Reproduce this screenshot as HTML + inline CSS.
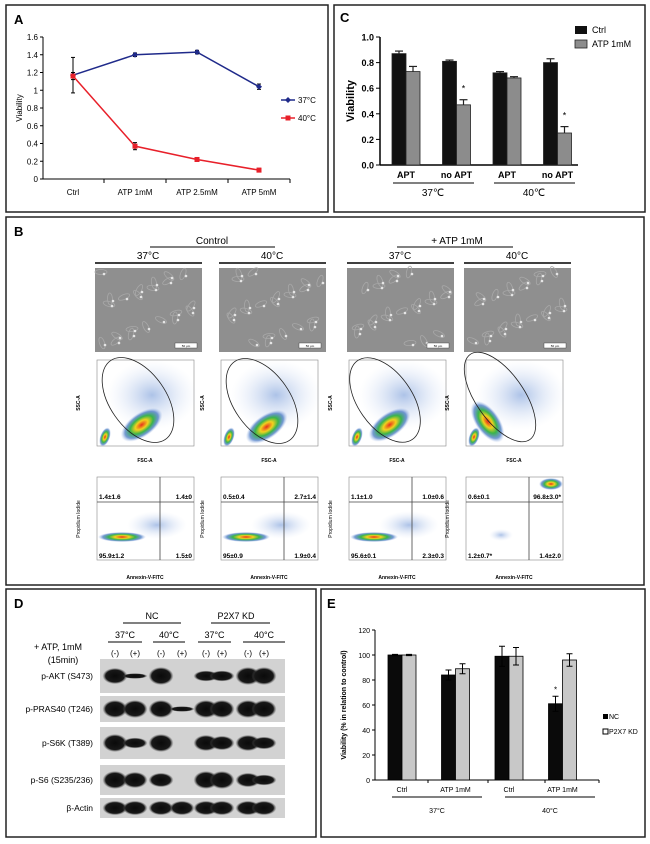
<!DOCTYPE html>
<html><head><meta charset="utf-8"><style>
body{margin:0;background:#fff;}
svg{display:block;font-family:"Liberation Sans",sans-serif;}
</style></head><body>
<svg id="fig" width="650" height="844" viewBox="0 0 650 844">
<defs>
<radialGradient id="heat" cx="50%" cy="50%" r="50%">
<stop offset="0" stop-color="#e8301c"/><stop offset="0.3" stop-color="#f2d21e"/><stop offset="0.55" stop-color="#39b54a"/><stop offset="0.8" stop-color="#3a6fc0" stop-opacity="0.7"/><stop offset="1" stop-color="#9db8e8" stop-opacity="0"/>
</radialGradient>
<radialGradient id="blue" cx="50%" cy="50%" r="50%">
<stop offset="0" stop-color="#5a86d0" stop-opacity="0.5"/><stop offset="1" stop-color="#c8d6f2" stop-opacity="0"/>
</radialGradient>
<radialGradient id="band" cx="50%" cy="50%" r="50%">
<stop offset="0" stop-color="#0a0a0a"/><stop offset="0.75" stop-color="#181818"/><stop offset="1" stop-color="#555" stop-opacity="0"/>
</radialGradient>
</defs>
<rect x="6" y="5" width="322" height="207" fill="none" stroke="#222" stroke-width="1.5"/>
<rect x="334" y="5" width="311" height="207" fill="none" stroke="#222" stroke-width="1.5"/>
<rect x="6" y="217" width="638" height="368" fill="none" stroke="#222" stroke-width="1.5"/>
<rect x="6" y="589" width="310" height="248" fill="none" stroke="#222" stroke-width="1.5"/>
<rect x="321" y="589" width="324" height="248" fill="none" stroke="#222" stroke-width="1.5"/>
<text x="14" y="24" font-size="13" font-weight="bold">A</text>
<text x="340" y="22" font-size="13" font-weight="bold">C</text>
<text x="14" y="236" font-size="13" font-weight="bold">B</text>
<text x="14" y="608" font-size="13" font-weight="bold">D</text>
<text x="327" y="608" font-size="13" font-weight="bold">E</text>
<g id="gA"></g><g id="gC"></g><g id="gB"></g><g id="gD"></g><g id="gE"></g>
</svg>
<script>
// ---------- Panel A data ----------
const aCategories = ["Ctrl","ATP 1mM","ATP 2.5mM","ATP 5mM"];
const a37 = [1.17,1.40,1.43,1.04];
const a37Err = [0.20,0.02,0.02,0.03];
const a40 = [1.16,0.37,0.22,0.10];
const a40Err = [0.04,0.04,0.02,0.02];
const aTicks = ["0","0.2","0.4","0.6","0.8","1","1.2","1.4","1.6"];
// ---------- Panel C data ----------
const cCategories = ["APT","no APT","APT","no APT"];
const cCtrl = [0.87,0.81,0.72,0.80];
const cCtrlErr = [0.02,0.01,0.01,0.03];
const cAtp = [0.73,0.47,0.68,0.25];
const cAtpErr = [0.04,0.04,0.01,0.05];
const cTicks = ["0.0","0.2","0.4","0.6","0.8","1.0"];
// ---------- Panel E data ----------
const eCategories = ["Ctrl","ATP 1mM","Ctrl","ATP 1mM"];
const eNC = [100,84,99,61];
const eNCErr = [0.5,4,8,6];
const eKD = [100,89,99,96];
const eKDErr = [0.5,4,7,5];
const eTicks = ["0","20","40","60","80","100","120"];
// ---------- Panel B data ----------
const bQuadLabels = [["1.4±1.6","1.4±0","95.9±1.2","1.5±0"],["0.5±0.4","2.7±1.4","95±0.9","1.9±0.4"],["1.1±1.0","1.0±0.6","95.6±0.1","2.3±0.3"],["0.6±0.1","96.8±3.0*","1.2±0.7*","1.4±2.0"]];
// ---------- Panel D data ----------
const dProteins = ["p-AKT (S473)","p-PRAS40 (T246)","p-S6K (T389)","p-S6 (S235/236)","β-Actin"];
const dBands = [[0.9,0.3,1,0,0.6,0.6,1,1],[1,1,1,0.3,1,1,1,1],[1,0.6,1,0,0.9,0.8,0.9,0.7],[1,0.9,0.8,0,1,1,0.8,0.6],[0.8,0.8,0.8,0.8,0.8,0.8,0.8,0.8]];

const NS="http://www.w3.org/2000/svg";
function el(p,tag,attrs,txt){const e=document.createElementNS(NS,tag);for(const k in attrs)e.setAttribute(k,attrs[k]);if(txt!==undefined)e.textContent=txt;p.appendChild(e);return e;}

// ===== Panel A =====
(function(){
const g=document.getElementById('gA');
const x0=43,x1=290,yb=179,yt=37,vmax=1.6;
const y=v=>yb-(v/vmax)*(yb-yt);
const xc=i=>73+i*62;
let e=el(g,'line',{x1:x0,y1:yt,x2:x0,y2:yb,stroke:'#000'});

e=el(g,'line',{x1:x0,y1:yb,x2:x1,y2:yb,stroke:'#000'});

aTicks.forEach((t,i)=>{const v=i*0.2;el(g,'line',{x1:x0-3,y1:y(v),x2:x0,y2:y(v),stroke:'#000'});
 e=el(g,'text',{x:x0-5,y:y(v)+3,'font-size':8,'text-anchor':'end'},t);
 });
aCategories.forEach((c,i)=>{el(g,'line',{x1:xc(i)+31,y1:yb,x2:xc(i)+31,y2:yb+4,stroke:'#000'});
 e=el(g,'text',{x:xc(i),y:yb+16,'font-size':8,'text-anchor':'middle'},c);
 });
e=el(g,'text',{x:22,y:108,'font-size':8,'text-anchor':'middle',transform:'rotate(-90 22 108)'},'Viability');

function series(vals,errs,col,name,marker){
 const pts=vals.map((v,i)=>xc(i)+','+y(v)).join(' ');
 let l=el(g,'polyline',{points:pts,fill:'none',stroke:col,'stroke-width':1.5});
 
 vals.forEach((v,i)=>{const X=xc(i);
  el(g,'line',{x1:X,y1:y(v+errs[i]),x2:X,y2:y(v-errs[i]),stroke:'#000'});
  el(g,'line',{x1:X-2,y1:y(v+errs[i]),x2:X+2,y2:y(v+errs[i]),stroke:'#000'});
  el(g,'line',{x1:X-2,y1:y(v-errs[i]),x2:X+2,y2:y(v-errs[i]),stroke:'#000'});
  let m=marker==='sq'?el(g,'rect',{x:X-2.5,y:y(v)-2.5,width:5,height:5,fill:col}):el(g,'path',{d:`M${X} ${y(v)-3}L${X+3} ${y(v)}L${X} ${y(v)+3}L${X-3} ${y(v)}Z`,fill:col});
  });
}
series(a37,a37Err,'#1f2a8a','series-37c','dia');
series(a40,a40Err,'#e8202a','series-40c','sq');
el(g,'line',{x1:281,y1:100,x2:295,y2:100,stroke:'#1f2a8a','stroke-width':1.5});
el(g,'path',{d:'M288 97L291 100L288 103L285 100Z',fill:'#1f2a8a'});
e=el(g,'text',{x:298,y:103,'font-size':8},'37°C');
el(g,'line',{x1:281,y1:118,x2:295,y2:118,stroke:'#e8202a','stroke-width':1.5});
el(g,'rect',{x:285.5,y:115.5,width:5,height:5,fill:'#e8202a'});
e=el(g,'text',{x:298,y:121,'font-size':8},'40°C');
})();

// ===== Panel C =====
(function(){
const g=document.getElementById('gC');
const x0=380,x1=578,yb=165,yt=37;
const y=v=>yb-v*(yb-yt);
const gc=i=>406+i*50.5;
let e=el(g,'line',{x1:x0,y1:yt,x2:x0,y2:yb,stroke:'#000','stroke-width':1.5});

e=el(g,'line',{x1:x0,y1:yb,x2:x1,y2:yb,stroke:'#000','stroke-width':1.5});

cTicks.forEach((t,i)=>{const v=i*0.2;el(g,'line',{x1:x0-4,y1:y(v),x2:x0,y2:y(v),stroke:'#000'});
 e=el(g,'text',{x:x0-6,y:y(v)+3.5,'font-size':9,'font-weight':'bold','text-anchor':'end'},t);
 });
e=el(g,'text',{x:354,y:101,'font-size':11,'font-weight':'bold','text-anchor':'middle',transform:'rotate(-90 354 101)'},'Viability');

cCategories.forEach((c,i)=>{const X=gc(i);
 function bar(v,er,x,fill,name){let r=el(g,'rect',{x:x,y:y(v),width:14,height:yb-y(v),fill:fill,stroke:'#222','stroke-width':0.8});
  
  el(g,'line',{x1:x+7,y1:y(v),x2:x+7,y2:y(v+er),stroke:'#222','stroke-width':1.2});
  el(g,'line',{x1:x+3,y1:y(v+er),x2:x+11,y2:y(v+er),stroke:'#222','stroke-width':1.2});}
 bar(cCtrl[i],cCtrlErr[i],X-14,'#111','c-bar-ctrl');
 bar(cAtp[i],cAtpErr[i],X,'#8c8c8c','c-bar-atp');
 e=el(g,'text',{x:X,y:178,'font-size':9,'font-weight':'bold','text-anchor':'middle'},c);
 });
[1,3].forEach(i=>{e=el(g,'text',{x:gc(i)+7,y:y(cAtp[i]+cAtpErr[i])-8,'font-size':9,'text-anchor':'middle'},'*');});
el(g,'line',{x1:393,y1:183,x2:474,y2:183,stroke:'#000'});
el(g,'line',{x1:494,y1:183,x2:575,y2:183,stroke:'#000'});
e=el(g,'text',{x:433,y:196,'font-size':10,'text-anchor':'middle'},'37℃');
e=el(g,'text',{x:534,y:196,'font-size':10,'text-anchor':'middle'},'40℃');
el(g,'rect',{x:575,y:26,width:12,height:8,fill:'#111'});
e=el(g,'text',{x:592,y:33,'font-size':9},'Ctrl');
el(g,'rect',{x:575,y:40,width:12,height:8,fill:'#8c8c8c',stroke:'#222','stroke-width':0.8});
e=el(g,'text',{x:592,y:47,'font-size':9},'ATP 1mM');
})();

// ===== Panel B =====
(function(){
const g=document.getElementById('gB');
let e;
e=el(g,'text',{x:212,y:244,'font-size':10,'text-anchor':'middle'},'Control');
el(g,'line',{x1:150,y1:247,x2:275,y2:247,stroke:'#000'});
e=el(g,'text',{x:457,y:244,'font-size':10,'text-anchor':'middle'},'+ ATP 1mM');
el(g,'line',{x1:397,y1:247,x2:513,y2:247,stroke:'#000'});
const cols=[95,219,347,464];
const temps=['37°C','40°C','37°C','40°C'];
const gates=[[138,400,48,28],[262,401,48,28],[385,400,48,27],[500,397,52,24]];
const centers=[[140,326],[265,328],[388,326],[490,320]];
cols.forEach((x,i)=>{
 e=el(g,'text',{x:x+53,y:259,'font-size':10,'text-anchor':'middle'},temps[i]);
 el(g,'line',{x1:x,y1:263,x2:x+107,y2:263,stroke:'#000','stroke-width':1.5});
 let r=el(g,'rect',{x:x,y:268,width:107,height:84,fill:'#8f8f8f'});
 for(let k=0;k<22;k++){const cx=x+6+((k*37+i*13)%96),cy=272+((k*23+i*7)%76);
  el(g,'ellipse',{cx:cx,cy:cy,rx:6,ry:2.5,fill:'none',stroke:'#a8a8a8','stroke-width':0.8,transform:`rotate(${(k*47)%180} ${cx} ${cy})`});
  el(g,'circle',{cx:cx+3,cy:cy+2,r:1.3,fill:'#e6e6e6'});}
 el(g,'rect',{x:x+80,y:343,width:22,height:5,fill:'#fff',stroke:'#333','stroke-width':0.4});
 el(g,'text',{x:x+91,y:347,'font-size':3,'text-anchor':'middle'},'50 μm');
 const px=x+2;
 r=el(g,'rect',{x:px,y:360,width:97,height:86,fill:'#fff',stroke:'#888','stroke-width':0.6});
 el(g,'ellipse',{cx:px+55,cy:395,rx:45,ry:35,fill:'url(#blue)'});
 el(g,'ellipse',{cx:centers[i][0]-x+px-(i===3?5:0),cy:centers[i][1]+100,rx:i===3?12:24,ry:i===3?24:12,fill:'url(#heat)',transform:`rotate(-35 ${centers[i][0]} ${centers[i][1]+100})`});
 el(g,'ellipse',{cx:px+8,cy:437,rx:5,ry:10,fill:'url(#heat)',transform:`rotate(20 ${px+8} 437)`});
 el(g,'ellipse',{cx:gates[i][0],cy:gates[i][1],rx:gates[i][2],ry:gates[i][3],fill:'none',stroke:'#222','stroke-width':0.8,transform:`rotate(55 ${gates[i][0]} ${gates[i][1]})`});
 e=el(g,'text',{x:px+48,y:462,'font-size':5,'font-weight':'bold','text-anchor':'middle'},'FSC-A');
 e=el(g,'text',{x:px-17,y:403,'font-size':5,'font-weight':'bold','text-anchor':'middle',transform:`rotate(-90 ${px-17} 403)`},'SSC-A');
 r=el(g,'rect',{x:px,y:477,width:97,height:83,fill:'#fff',stroke:'#888','stroke-width':0.6});
 if(i<3){el(g,'ellipse',{cx:px+60,cy:525,rx:30,ry:14,fill:'url(#blue)'});el(g,'ellipse',{cx:px+25,cy:537,rx:24,ry:5,fill:'url(#heat)'});}
 else{el(g,'ellipse',{cx:px+85,cy:484,rx:12,ry:6,fill:'url(#heat)'});el(g,'ellipse',{cx:px+35,cy:535,rx:12,ry:6,fill:'url(#blue)'});}
 el(g,'line',{x1:px+63,y1:477,x2:px+63,y2:560,stroke:'#444','stroke-width':0.8});
 el(g,'line',{x1:px,y1:502,x2:px+97,y2:502,stroke:'#444','stroke-width':0.8});
 const q=bQuadLabels[i];
 [[px+2,499,'start',0],[px+95,499,'end',1],[px+2,558,'start',2],[px+95,558,'end',3]].forEach(p=>{
  e=el(g,'text',{x:p[0],y:p[1],'font-size':6.5,'font-weight':'bold','text-anchor':p[2]},q[p[3]]);});
 e=el(g,'text',{x:px+48,y:579,'font-size':5,'font-weight':'bold','text-anchor':'middle'},'Annexin-V-FITC');
 e=el(g,'text',{x:px-17,y:519,'font-size':5,'text-anchor':'middle',transform:`rotate(-90 ${px-17} 519)`},'Propidium Iodide');
});
})();

// ===== Panel D =====
(function(){
const g=document.getElementById('gD');let e;
e=el(g,'text',{x:152,y:619,'font-size':9,'text-anchor':'middle'},'NC');
el(g,'line',{x1:123,y1:623,x2:181,y2:623,stroke:'#000'});
e=el(g,'text',{x:236,y:619,'font-size':9,'text-anchor':'middle'},'P2X7 KD');
el(g,'line',{x1:211,y1:623,x2:270,y2:623,stroke:'#000'});
const tX=[[108,142,'37°C'],[153,185,'40°C'],[198,231,'37°C'],[243,285,'40°C']];
tX.forEach(t=>{e=el(g,'text',{x:(t[0]+t[1])/2,y:638,'font-size':9,'text-anchor':'middle'},t[2]);
 el(g,'line',{x1:t[0],y1:642,x2:t[1],y2:642,stroke:'#000'});});
e=el(g,'text',{x:58,y:650,'font-size':9,'text-anchor':'middle'},'+ ATP, 1mM');
el(g,'text',{x:63,y:663,'font-size':9,'text-anchor':'middle'},'(15min)');
const lanes=[115,135,161,182,206,222,248,264];
lanes.forEach((lx,i)=>{e=el(g,'text',{x:lx,y:656,'font-size':8,'text-anchor':'middle'},i%2?'(+)':'(-)');});
const strips=[[659,34],[696,26],[727,32],[765,30],[798,20]];
dProteins.forEach((p,j)=>{const s=strips[j];
 let r=el(g,'rect',{x:100,y:s[0],width:185,height:s[1],fill:'#d2d2d2'});
 e=el(g,'text',{x:93,y:s[0]+s[1]/2+3,'font-size':8.5,'text-anchor':'end'},p);
 dBands[j].forEach((v,i)=>{if(v<=0)return;
  const b=el(g,'ellipse',{cx:lanes[i],cy:s[0]+s[1]/2,rx:12.5,ry:Math.max(1.5,v*Math.min(9,s[1]/2-1)),fill:'url(#band)'});
  });
});
})();

// ===== Panel E =====
(function(){
const g=document.getElementById('gE');
const x0=375,x1=599,yb=780,yt=630,vmax=120;
const y=v=>yb-(v/vmax)*(yb-yt);
const gc=i=>402+i*53.5;
let e=el(g,'line',{x1:x0,y1:yt,x2:x0,y2:yb,stroke:'#000'});
e=el(g,'line',{x1:x0,y1:yb,x2:x1,y2:yb,stroke:'#000'});
eTicks.forEach((t,i)=>{const v=i*20;el(g,'line',{x1:x0-3,y1:y(v),x2:x0,y2:y(v),stroke:'#000'});
 e=el(g,'text',{x:x0-5,y:y(v)+3,'font-size':7,'text-anchor':'end'},t);});
[428,488,545,599].forEach(x=>el(g,'line',{x1:x,y1:yb,x2:x,y2:yb+3,stroke:'#000'}));
e=el(g,'text',{x:346,y:705,'font-size':7,'font-weight':'bold','text-anchor':'middle',transform:'rotate(-90 346 705)'},'Viability (% in relation to control)');
eCategories.forEach((c,i)=>{const X=gc(i);
 function bar(v,er,x,fill,name){let r=el(g,'rect',{x:x,y:y(v),width:14,height:yb-y(v),fill:fill,stroke:'#000','stroke-width':0.8});
  
  el(g,'line',{x1:x+7,y1:y(v-er),x2:x+7,y2:y(v+er),stroke:'#000'});
  el(g,'line',{x1:x+4,y1:y(v+er),x2:x+10,y2:y(v+er),stroke:'#000'});
  el(g,'line',{x1:x+4,y1:y(v-er),x2:x+10,y2:y(v-er),stroke:'#000'});}
 bar(eNC[i],eNCErr[i],X-14,'#0a0a0a','e-bar-nc');
 bar(eKD[i],eKDErr[i],X,'#c8c8c8','e-bar-kd');
 e=el(g,'text',{x:X,y:792,'font-size':7,'text-anchor':'middle'},c);});
e=el(g,'text',{x:gc(3)-7,y:y(eNC[3]+eNCErr[3])-4,'font-size':8,'text-anchor':'middle'},'*');
el(g,'line',{x1:392,y1:797,x2:482,y2:797,stroke:'#000'});
el(g,'line',{x1:505,y1:797,x2:595,y2:797,stroke:'#000'});
e=el(g,'text',{x:437,y:813,'font-size':7,'text-anchor':'middle'},'37°C');
e=el(g,'text',{x:550,y:813,'font-size':7,'text-anchor':'middle'},'40°C');
el(g,'rect',{x:603,y:714,width:5,height:5,fill:'#000'});
e=el(g,'text',{x:609,y:719,'font-size':7},'NC');
el(g,'rect',{x:603,y:729,width:5,height:5,fill:'#fff',stroke:'#000'});
e=el(g,'text',{x:609,y:734,'font-size':7},'P2X7 KD');
})();
</script>
</body></html>
